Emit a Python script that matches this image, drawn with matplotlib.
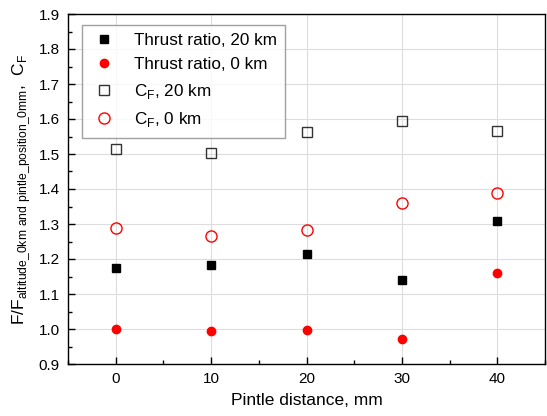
import matplotlib
matplotlib.use('Agg')
import matplotlib.pyplot as plt
from matplotlib.ticker import MultipleLocator

plt.rcParams['font.family'] = ['Liberation Sans', 'DejaVu Sans']
plt.rcParams['mathtext.fontset'] = 'custom'
plt.rcParams['mathtext.rm'] = 'Liberation Sans'

pintle = [0, 10, 20, 30, 40]
thrust_20km = [1.175, 1.182, 1.214, 1.140, 1.309]
thrust_0km = [1.000, 0.995, 0.997, 0.972, 1.159]
cf_20km = [1.513, 1.504, 1.562, 1.595, 1.567]
cf_0km = [1.288, 1.267, 1.283, 1.361, 1.389]

fig = plt.figure(figsize=(5.47, 4.16), dpi=100)
ax = fig.add_axes([68/547, 1-364/416, 477/547, 350/416])

ax.plot(pintle, thrust_20km, 's', color='black', ms=5.5, label='Thrust ratio, 20 km')
ax.plot(pintle, thrust_0km, 'o', color='red', ms=6, label='Thrust ratio, 0 km')
ax.plot(pintle, cf_20km, 's', mfc='none', mec='#333333', mew=1.0, ms=7, label=r'C$_\mathregular{F}$, 20 km')
ax.plot(pintle, cf_0km, 'o', mfc='none', mec='red', mew=1.0, ms=8, label=r'C$_\mathregular{F}$, 0 km')

ax.set_xlim(-5, 45)
ax.set_ylim(0.9, 1.9)
ax.xaxis.set_major_locator(MultipleLocator(10))
ax.xaxis.set_minor_locator(MultipleLocator(5))
ax.yaxis.set_major_locator(MultipleLocator(0.1))
ax.yaxis.set_minor_locator(MultipleLocator(0.05))
ax.yaxis.set_major_formatter(plt.FormatStrFormatter('%.1f'))
ax.tick_params(which='both', direction='in', top=False, right=False, labelsize=11, pad=6)
ax.tick_params(which='major', length=5, width=1)
ax.tick_params(which='minor', length=3, width=1)
ax.grid(True, which='major', color='#dddddd', lw=0.8)
ax.set_axisbelow(True)
for s in ax.spines.values():
    s.set_linewidth(1.0)

ax.set_xlabel('Pintle distance, mm', fontsize=12.5, labelpad=5)
ax.set_ylabel(r'F/F$_{\mathregular{altitude\_0km\ and\ pintle\_position\_0mm}}$,  C$_\mathregular{F}$',
              fontsize=12.5, labelpad=4)

leg = ax.legend(loc='upper left', fontsize=12.3, frameon=True, fancybox=False,
                edgecolor='#888888', handletextpad=1.0, handlelength=1.5, borderpad=0.5,
                bbox_to_anchor=(0.03, 0.97), labelspacing=0.55, borderaxespad=0)
leg.get_frame().set_linewidth(1.0)

fig.savefig('out.png', dpi=100)
